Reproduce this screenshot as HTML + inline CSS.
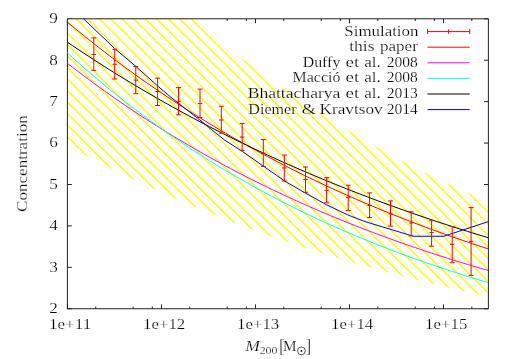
<!DOCTYPE html>
<html><head><meta charset="utf-8"><title>Concentration vs M200</title>
<style>html,body{margin:0;padding:0;background:#fff;}body{width:512px;height:359px;overflow:hidden;font-family:"Liberation Serif",serif;}svg{display:block;}</style></head>
<body>
<svg width="512" height="359" viewBox="0 0 512 359" font-family="'Liberation Serif', serif" font-size="15.2px" fill="#000">
<rect x="0" y="0" width="512" height="359" fill="#fff"/>
<defs><clipPath id="band"><polygon points="67.4,18.8 72.66,18.8 77.93,18.8 83.19,18.8 88.45,18.8 93.71,18.8 98.98,18.8 104.24,18.8 109.5,18.8 114.76,18.8 120.03,18.8 125.29,18.8 130.55,18.8 135.81,18.8 141.07,18.8 146.34,18.8 151.6,18.8 156.86,18.8 162.12,18.8 167.39,18.8 172.65,18.8 177.91,18.8 183.18,18.8 188.44,18.8 193.7,19.57 198.96,24.03 204.22,28.43 209.49,32.78 214.75,37.08 220.01,41.33 225.28,45.53 230.54,49.68 235.8,53.78 241.06,57.82 246.32,61.82 251.59,65.78 256.85,69.68 262.11,73.54 267.38,77.35 272.64,81.12 277.9,84.84 283.16,88.52 288.43,92.15 293.69,95.74 298.95,99.28 304.21,102.79 309.48,106.25 314.74,109.67 320,113.05 325.26,116.38 330.52,119.68 335.79,122.94 341.05,126.16 346.31,129.34 351.58,132.49 356.84,135.59 362.1,138.66 367.36,141.69 372.62,144.69 377.89,147.65 383.15,150.57 388.41,153.46 393.67,156.31 398.94,159.13 404.2,161.92 409.46,164.67 414.73,167.39 419.99,170.08 425.25,172.73 430.51,175.36 435.77,177.95 441.04,180.51 446.3,183.04 451.56,185.54 456.83,188.01 462.09,190.45 467.35,192.86 472.61,195.24 477.88,197.59 483.14,199.92 488.4,202.22 488.4,296.5 483.14,295.36 477.88,294.21 472.61,293.04 467.35,291.86 462.09,290.67 456.83,289.46 451.56,288.24 446.3,287 441.04,285.75 435.77,284.49 430.51,283.2 425.25,281.91 419.99,280.6 414.73,279.27 409.46,277.92 404.2,276.56 398.94,275.19 393.67,273.79 388.41,272.38 383.15,270.96 377.89,269.51 372.62,268.05 367.36,266.58 362.1,265.08 356.84,263.57 351.58,262.03 346.31,260.48 341.05,258.92 335.79,257.33 330.52,255.72 325.26,254.1 320,252.45 314.74,250.79 309.48,249.1 304.21,247.4 298.95,245.67 293.69,243.93 288.43,242.16 283.16,240.37 277.9,238.56 272.64,236.73 267.38,234.88 262.11,233 256.85,231.1 251.59,229.18 246.32,227.24 241.06,225.27 235.8,223.28 230.54,221.27 225.28,219.23 220.01,217.17 214.75,215.08 209.49,212.97 204.22,210.83 198.96,208.67 193.7,206.48 188.44,204.27 183.18,202.03 177.91,199.76 172.65,197.46 167.39,195.14 162.12,192.79 156.86,190.41 151.6,188 146.34,185.57 141.07,183.1 135.81,180.61 130.55,178.08 125.29,175.53 120.03,172.94 114.76,170.33 109.5,167.68 104.24,165 98.98,162.29 93.71,159.55 88.45,156.77 83.19,153.96 77.93,151.12 72.66,148.24 67.4,145.33"/></clipPath><clipPath id="frame"><rect x="67.4" y="18.8" width="421" height="289.95"/></clipPath></defs>
<path d="M67.4 308.75v-4.4M67.4 18.8v4.4M95.71 308.75v-2.2M95.71 18.8v2.2M133.13 308.75v-2.2M133.13 18.8v2.2M152.32 308.75v-2.2M152.32 18.8v2.2M161.43 308.75v-4.4M161.43 18.8v4.4M189.74 308.75v-2.2M189.74 18.8v2.2M227.16 308.75v-2.2M227.16 18.8v2.2M246.35 308.75v-2.2M246.35 18.8v2.2M255.47 308.75v-4.4M255.47 18.8v4.4M283.77 308.75v-2.2M283.77 18.8v2.2M321.19 308.75v-2.2M321.19 18.8v2.2M340.39 308.75v-2.2M340.39 18.8v2.2M349.5 308.75v-4.4M349.5 18.8v4.4M377.81 308.75v-2.2M377.81 18.8v2.2M415.23 308.75v-2.2M415.23 18.8v2.2M434.42 308.75v-2.2M434.42 18.8v2.2M443.53 308.75v-4.4M443.53 18.8v4.4M471.84 308.75v-2.2M471.84 18.8v2.2M67.4 308.75h4.4M488.4 308.75h-4.4M67.4 267.33h4.4M488.4 267.33h-4.4M67.4 225.91h4.4M488.4 225.91h-4.4M67.4 184.49h4.4M488.4 184.49h-4.4M67.4 143.06h4.4M488.4 143.06h-4.4M67.4 101.64h4.4M488.4 101.64h-4.4M67.4 60.22h4.4M488.4 60.22h-4.4M67.4 18.8h4.4M488.4 18.8h-4.4" stroke="#222" stroke-width="1" fill="none"/>
<polygon points="67.4,18.8 72.66,18.8 77.93,18.8 83.19,18.8 88.45,18.8 93.71,18.8 98.98,18.8 104.24,18.8 109.5,18.8 114.76,18.8 120.03,18.8 125.29,18.8 130.55,18.8 135.81,18.8 141.07,18.8 146.34,18.8 151.6,18.8 156.86,18.8 162.12,18.8 167.39,18.8 172.65,18.8 177.91,18.8 183.18,18.8 188.44,18.8 193.7,19.57 198.96,24.03 204.22,28.43 209.49,32.78 214.75,37.08 220.01,41.33 225.28,45.53 230.54,49.68 235.8,53.78 241.06,57.82 246.32,61.82 251.59,65.78 256.85,69.68 262.11,73.54 267.38,77.35 272.64,81.12 277.9,84.84 283.16,88.52 288.43,92.15 293.69,95.74 298.95,99.28 304.21,102.79 309.48,106.25 314.74,109.67 320,113.05 325.26,116.38 330.52,119.68 335.79,122.94 341.05,126.16 346.31,129.34 351.58,132.49 356.84,135.59 362.1,138.66 367.36,141.69 372.62,144.69 377.89,147.65 383.15,150.57 388.41,153.46 393.67,156.31 398.94,159.13 404.2,161.92 409.46,164.67 414.73,167.39 419.99,170.08 425.25,172.73 430.51,175.36 435.77,177.95 441.04,180.51 446.3,183.04 451.56,185.54 456.83,188.01 462.09,190.45 467.35,192.86 472.61,195.24 477.88,197.59 483.14,199.92 488.4,202.22 488.4,296.5 483.14,295.36 477.88,294.21 472.61,293.04 467.35,291.86 462.09,290.67 456.83,289.46 451.56,288.24 446.3,287 441.04,285.75 435.77,284.49 430.51,283.2 425.25,281.91 419.99,280.6 414.73,279.27 409.46,277.92 404.2,276.56 398.94,275.19 393.67,273.79 388.41,272.38 383.15,270.96 377.89,269.51 372.62,268.05 367.36,266.58 362.1,265.08 356.84,263.57 351.58,262.03 346.31,260.48 341.05,258.92 335.79,257.33 330.52,255.72 325.26,254.1 320,252.45 314.74,250.79 309.48,249.1 304.21,247.4 298.95,245.67 293.69,243.93 288.43,242.16 283.16,240.37 277.9,238.56 272.64,236.73 267.38,234.88 262.11,233 256.85,231.1 251.59,229.18 246.32,227.24 241.06,225.27 235.8,223.28 230.54,221.27 225.28,219.23 220.01,217.17 214.75,215.08 209.49,212.97 204.22,210.83 198.96,208.67 193.7,206.48 188.44,204.27 183.18,202.03 177.91,199.76 172.65,197.46 167.39,195.14 162.12,192.79 156.86,190.41 151.6,188 146.34,185.57 141.07,183.1 135.81,180.61 130.55,178.08 125.29,175.53 120.03,172.94 114.76,170.33 109.5,167.68 104.24,165 98.98,162.29 93.71,159.55 88.45,156.77 83.19,153.96 77.93,151.12 72.66,148.24 67.4,145.33" fill="#fff"/><g clip-path="url(#band)"><path d="M-460.2 0L-101.2 359M-448.7 0L-89.7 359M-437.2 0L-78.2 359M-425.7 0L-66.7 359M-414.2 0L-55.2 359M-402.7 0L-43.7 359M-391.2 0L-32.2 359M-379.7 0L-20.7 359M-368.2 0L-9.2 359M-356.7 0L2.3 359M-345.2 0L13.8 359M-333.7 0L25.3 359M-322.2 0L36.8 359M-310.7 0L48.3 359M-299.2 0L59.8 359M-287.7 0L71.3 359M-276.2 0L82.8 359M-264.7 0L94.3 359M-253.2 0L105.8 359M-241.7 0L117.3 359M-230.2 0L128.8 359M-218.7 0L140.3 359M-207.2 0L151.8 359M-195.7 0L163.3 359M-184.2 0L174.8 359M-172.7 0L186.3 359M-161.2 0L197.8 359M-149.7 0L209.3 359M-138.2 0L220.8 359M-126.7 0L232.3 359M-115.2 0L243.8 359M-103.7 0L255.3 359M-92.2 0L266.8 359M-80.7 0L278.3 359M-69.2 0L289.8 359M-57.7 0L301.3 359M-46.2 0L312.8 359M-34.7 0L324.3 359M-23.2 0L335.8 359M-11.7 0L347.3 359M-0.2 0L358.8 359M11.3 0L370.3 359M22.8 0L381.8 359M34.3 0L393.3 359M45.8 0L404.8 359M57.3 0L416.3 359M68.8 0L427.8 359M80.3 0L439.3 359M91.8 0L450.8 359M103.3 0L462.3 359M114.8 0L473.8 359M126.3 0L485.3 359M137.8 0L496.8 359M149.3 0L508.3 359M160.8 0L519.8 359M172.3 0L531.3 359M183.8 0L542.8 359M195.3 0L554.3 359M206.8 0L565.8 359M218.3 0L577.3 359M229.8 0L588.8 359M241.3 0L600.3 359M252.8 0L611.8 359M264.3 0L623.3 359M275.8 0L634.8 359M287.3 0L646.3 359M298.8 0L657.8 359M310.3 0L669.3 359M321.8 0L680.8 359M333.3 0L692.3 359M344.8 0L703.8 359M356.3 0L715.3 359M367.8 0L726.8 359M379.3 0L738.3 359M390.8 0L749.8 359M402.3 0L761.3 359M413.8 0L772.8 359M425.3 0L784.3 359M436.8 0L795.8 359M448.3 0L807.3 359M459.8 0L818.8 359M471.3 0L830.3 359M482.8 0L841.8 359M494.3 0L853.3 359M505.8 0L864.8 359M517.3 0L876.3 359M528.8 0L887.8 359M540.3 0L899.3 359M551.8 0L910.8 359M563.3 0L922.3 359M574.8 0L933.8 359M586.3 0L945.3 359M597.8 0L956.8 359M609.3 0L968.3 359M620.8 0L979.8 359M632.3 0L991.3 359M643.8 0L1002.8 359M655.3 0L1014.3 359M666.8 0L1025.8 359M678.3 0L1037.3 359" stroke="#ffff00" stroke-width="1.5" fill="none"/></g>
<path d="M67.4 18.8H488.4V308.75H67.4Z" stroke="#222" stroke-width="1" fill="none"/>
<g clip-path="url(#frame)" fill="none" stroke-width="1.0">
<path d="M67.4 22.2 L72.66 26.56 L77.93 30.88 L83.19 35.14 L88.45 39.36 L93.71 43.52 L98.98 47.64 L104.24 51.71 L109.5 55.72 L114.76 59.7 L120.03 63.62 L125.29 67.5 L130.55 71.33 L135.81 75.12 L141.07 78.86 L146.34 82.56 L151.6 86.21 L156.86 89.82 L162.12 93.39 L167.39 96.91 L172.65 100.4 L177.91 103.84 L183.18 107.24 L188.44 110.61 L193.7 113.93 L198.96 117.21 L204.22 120.46 L209.49 123.66 L214.75 126.83 L220.01 129.96 L225.28 133.05 L230.54 136.11 L235.8 139.13 L241.06 142.12 L246.32 145.06 L251.59 147.98 L256.85 150.86 L262.11 153.71 L267.38 156.52 L272.64 159.3 L277.9 162.04 L283.16 164.76 L288.43 167.44 L293.69 170.09 L298.95 172.71 L304.21 175.3 L309.48 177.86 L314.74 180.38 L320 182.88 L325.26 185.35 L330.52 187.79 L335.79 190.2 L341.05 192.58 L346.31 194.93 L351.58 197.26 L356.84 199.55 L362.1 201.82 L367.36 204.07 L372.62 206.28 L377.89 208.48 L383.15 210.64 L388.41 212.78 L393.67 214.89 L398.94 216.98 L404.2 219.05 L409.46 221.09 L414.73 223.1 L419.99 225.1 L425.25 227.06 L430.51 229.01 L435.77 230.93 L441.04 232.83 L446.3 234.71 L451.56 236.56 L456.83 238.4 L462.09 240.21 L467.35 242 L472.61 243.77 L477.88 245.51 L483.14 247.24 L488.4 248.95" stroke="#ff0000"/>
<path d="M67.4 63.33 L72.66 67.4 L77.93 71.42 L83.19 75.39 L88.45 79.31 L93.71 83.18 L98.98 87 L104.24 90.78 L109.5 94.5 L114.76 98.19 L120.03 101.82 L125.29 105.42 L130.55 108.96 L135.81 112.47 L141.07 115.93 L146.34 119.34 L151.6 122.72 L156.86 126.05 L162.12 129.34 L167.39 132.6 L172.65 135.81 L177.91 138.98 L183.18 142.11 L188.44 145.2 L193.7 148.26 L198.96 151.27 L204.22 154.25 L209.49 157.19 L214.75 160.1 L220.01 162.97 L225.28 165.8 L230.54 168.6 L235.8 171.37 L241.06 174.1 L246.32 176.79 L251.59 179.45 L256.85 182.08 L262.11 184.68 L267.38 187.25 L272.64 189.78 L277.9 192.28 L283.16 194.75 L288.43 197.19 L293.69 199.6 L298.95 201.98 L304.21 204.33 L309.48 206.65 L314.74 208.95 L320 211.21 L325.26 213.45 L330.52 215.66 L335.79 217.84 L341.05 219.99 L346.31 222.12 L351.58 224.22 L356.84 226.29 L362.1 228.34 L367.36 230.37 L372.62 232.36 L377.89 234.34 L383.15 236.29 L388.41 238.21 L393.67 240.11 L398.94 241.99 L404.2 243.85 L409.46 245.68 L414.73 247.49 L419.99 249.27 L425.25 251.04 L430.51 252.78 L435.77 254.5 L441.04 256.2 L446.3 257.88 L451.56 259.54 L456.83 261.17 L462.09 262.79 L467.35 264.39 L472.61 265.96 L477.88 267.52 L483.14 269.06 L488.4 270.58" stroke="#ff00ff"/>
<path d="M67.4 53.01 L72.66 57.78 L77.93 62.48 L83.19 67.11 L88.45 71.68 L93.71 76.18 L98.98 80.62 L104.24 85 L109.5 89.31 L114.76 93.57 L120.03 97.76 L125.29 101.9 L130.55 105.97 L135.81 109.99 L141.07 113.96 L146.34 117.86 L151.6 121.72 L156.86 125.52 L162.12 129.26 L167.39 132.95 L172.65 136.59 L177.91 140.18 L183.18 143.72 L188.44 147.21 L193.7 150.65 L198.96 154.04 L204.22 157.38 L209.49 160.68 L214.75 163.93 L220.01 167.14 L225.28 170.29 L230.54 173.41 L235.8 176.48 L241.06 179.51 L246.32 182.49 L251.59 185.44 L256.85 188.34 L262.11 191.2 L267.38 194.02 L272.64 196.8 L277.9 199.54 L283.16 202.24 L288.43 204.91 L293.69 207.54 L298.95 210.13 L304.21 212.68 L309.48 215.2 L314.74 217.68 L320 220.13 L325.26 222.54 L330.52 224.92 L335.79 227.27 L341.05 229.58 L346.31 231.86 L351.58 234.11 L356.84 236.33 L362.1 238.51 L367.36 240.67 L372.62 242.79 L377.89 244.89 L383.15 246.95 L388.41 248.99 L393.67 250.99 L398.94 252.97 L404.2 254.92 L409.46 256.85 L414.73 258.74 L419.99 260.61 L425.25 262.46 L430.51 264.27 L435.77 266.07 L441.04 267.83 L446.3 269.57 L451.56 271.29 L456.83 272.99 L462.09 274.65 L467.35 276.3 L472.61 277.92 L477.88 279.52 L483.14 281.1 L488.4 282.66" stroke="#00ffff"/>
<path d="M67.4 42.16 L72.66 45.73 L77.93 49.26 L83.19 52.75 L88.45 56.21 L93.71 59.63 L98.98 63.02 L104.24 66.37 L109.5 69.69 L114.76 72.98 L120.03 76.23 L125.29 79.45 L130.55 82.63 L135.81 85.78 L141.07 88.9 L146.34 91.99 L151.6 95.05 L156.86 98.08 L162.12 101.07 L167.39 104.04 L172.65 106.97 L177.91 109.88 L183.18 112.75 L188.44 115.6 L193.7 118.41 L198.96 121.2 L204.22 123.96 L209.49 126.69 L214.75 129.4 L220.01 132.07 L225.28 134.72 L230.54 137.34 L235.8 139.94 L241.06 142.5 L246.32 145.05 L251.59 147.56 L256.85 150.05 L262.11 152.52 L267.38 154.96 L272.64 157.37 L277.9 159.76 L283.16 162.13 L288.43 164.47 L293.69 166.79 L298.95 169.08 L304.21 171.35 L309.48 173.6 L314.74 175.82 L320 178.03 L325.26 180.21 L330.52 182.36 L335.79 184.5 L341.05 186.61 L346.31 188.7 L351.58 190.77 L356.84 192.82 L362.1 194.85 L367.36 196.86 L372.62 198.85 L377.89 200.81 L383.15 202.76 L388.41 204.69 L393.67 206.59 L398.94 208.48 L404.2 210.35 L409.46 212.2 L414.73 214.03 L419.99 215.84 L425.25 217.64 L430.51 219.41 L435.77 221.17 L441.04 222.91 L446.3 224.63 L451.56 226.33 L456.83 228.02 L462.09 229.69 L467.35 231.34 L472.61 232.98 L477.88 234.6 L483.14 236.2 L488.4 237.78" stroke="#000000"/>
<path d="M60 -3.7 L83.6 18.9 L114.8 48.6 L135.8 66.4 L163.4 91 L178.2 103.1 L199.3 119.5 L215.7 133 L225 140.3 L242.6 151.6 L263.1 166 L276.6 175.4 L285 181.25 L305.3 193 L326.4 204.7 L347.5 214.8 L365 221.6 L392 229.8 L413.5 236.25 L443.8 236.25 L488.4 221.6" stroke="#0000ff"/>
</g>
<path d="M93.8 37.9V70.4M91.35 37.9H96.25M91.35 70.4H96.25M91.6 54.5H96M114.7 49.3V79M112.25 49.3H117.15M112.25 79H117.15M112.5 64.3H116.9M135.75 66.5V93.7M133.3 66.5H138.2M133.3 93.7H138.2M133.55 80.1H137.95M157.6 78.2V105.5M155.15 78.2H160.05M155.15 105.5H160.05M155.4 91.5H159.8M178.5 87.6V114.9M176.05 87.6H180.95M176.05 114.9H180.95M176.3 101.25H180.7M200 89.1V117.5M197.55 89.1H202.45M197.55 117.5H202.45M197.8 103.6H202.2M221.3 106.3V133.2M218.85 106.3H223.75M218.85 133.2H223.75M219.1 120H223.5M242.2 123.4V150.4M239.75 123.4H244.65M239.75 150.4H244.65M240 137.1H244.4M263.3 139.6V166.4M260.85 139.6H265.75M260.85 166.4H265.75M261.1 153.1H265.5M284.3 155V181M281.85 155H286.75M281.85 181H286.75M282.1 167.9H286.5M305.5 167V192.3M303.05 167H307.95M303.05 192.3H307.95M303.3 179.5H307.7M326.6 177.7V202.9M324.15 177.7H329.05M324.15 202.9H329.05M324.4 190.4H328.8M348.2 185.2V210.6M345.75 185.2H350.65M345.75 210.6H350.65M346 197.3H350.4M369.6 192.9V217.5M367.15 192.9H372.05M367.15 217.5H372.05M367.4 205.5H371.8M390.5 200.9V226.1M388.05 200.9H392.95M388.05 226.1H392.95M388.3 213.9H392.7M411.2 211.8V235.9M408.75 211.8H413.65M408.75 235.9H413.65M409 223H413.4M431.6 220.7V246.25M429.15 220.7H434.05M429.15 246.25H434.05M429.4 232.6H433.8M452.2 226.5V262.7M449.75 226.5H454.65M449.75 262.7H454.65M450 244.3H454.4M471.1 207.6V275.4M468.65 207.6H473.55M468.65 275.4H473.55M468.9 241.4H473.3" stroke="#ff0000" stroke-width="1" fill="none"/>
<g style="filter:grayscale(1)" stroke="#fff" stroke-width="0.22" paint-order="fill stroke">
<text x="57.9" y="313.05" text-anchor="end" textLength="8.6" lengthAdjust="spacingAndGlyphs">2</text>
<text x="57.9" y="271.63" text-anchor="end" textLength="8.6" lengthAdjust="spacingAndGlyphs">3</text>
<text x="57.9" y="230.21" text-anchor="end" textLength="8.6" lengthAdjust="spacingAndGlyphs">4</text>
<text x="57.9" y="188.79" text-anchor="end" textLength="8.6" lengthAdjust="spacingAndGlyphs">5</text>
<text x="57.9" y="147.36" text-anchor="end" textLength="8.6" lengthAdjust="spacingAndGlyphs">6</text>
<text x="57.9" y="105.94" text-anchor="end" textLength="8.6" lengthAdjust="spacingAndGlyphs">7</text>
<text x="57.9" y="64.52" text-anchor="end" textLength="8.6" lengthAdjust="spacingAndGlyphs">8</text>
<text x="57.9" y="23.1" text-anchor="end" textLength="8.6" lengthAdjust="spacingAndGlyphs">9</text>
<text x="70.1" y="328.6" text-anchor="middle" textLength="42.2" lengthAdjust="spacingAndGlyphs">1e+11</text>
<text x="164.13" y="328.6" text-anchor="middle" textLength="42.2" lengthAdjust="spacingAndGlyphs">1e+12</text>
<text x="258.17" y="328.6" text-anchor="middle" textLength="42.2" lengthAdjust="spacingAndGlyphs">1e+13</text>
<text x="352.2" y="328.6" text-anchor="middle" textLength="42.2" lengthAdjust="spacingAndGlyphs">1e+14</text>
<text x="446.23" y="328.6" text-anchor="middle" textLength="42.2" lengthAdjust="spacingAndGlyphs">1e+15</text>
<text transform="translate(27,163.6) rotate(-90)" text-anchor="middle" textLength="96.6" lengthAdjust="spacingAndGlyphs">Concentration</text>
<text x="245.2" y="351.4" font-style="italic" textLength="14.6" lengthAdjust="spacingAndGlyphs">M</text>
<text x="259.7" y="354.4" font-size="10.6px" textLength="17.8" lengthAdjust="spacingAndGlyphs">200</text>
<text transform="translate(279.2,351.4) scale(1,1.22)" x="0" y="0.4">[</text>
<text x="283.0" y="351.4" textLength="13.6" lengthAdjust="spacingAndGlyphs">M</text>
<circle cx="301.4" cy="350.9" r="3.9" fill="none" stroke="#000" stroke-width="0.65"/><circle cx="301.4" cy="350.9" r="0.85" fill="#000" stroke="none"/>
<text transform="translate(306.0,351.4) scale(1,1.22)" x="0" y="0.4">]</text>
<text x="344.34" y="35.5" textLength="74.14" lengthAdjust="spacingAndGlyphs">Simulation</text>
<text x="349.18" y="51.1" textLength="25.3" lengthAdjust="spacingAndGlyphs">this</text>
<text x="379.91" y="51.1" textLength="37.96" lengthAdjust="spacingAndGlyphs">paper</text>
<text x="302.7" y="66.7" textLength="37.64" lengthAdjust="spacingAndGlyphs">Duffy</text>
<text x="345.52" y="66.7" textLength="13.72" lengthAdjust="spacingAndGlyphs">et</text>
<text x="364.2" y="66.7" textLength="16.54" lengthAdjust="spacingAndGlyphs">al.</text>
<text x="386.71" y="66.7" textLength="31.06" lengthAdjust="spacingAndGlyphs">2008</text>
<text x="292.57" y="82.3" textLength="47.82" lengthAdjust="spacingAndGlyphs">Macció</text>
<text x="345.52" y="82.3" textLength="13.72" lengthAdjust="spacingAndGlyphs">et</text>
<text x="364.2" y="82.3" textLength="16.54" lengthAdjust="spacingAndGlyphs">al.</text>
<text x="386.71" y="82.3" textLength="31.06" lengthAdjust="spacingAndGlyphs">2008</text>
<text x="247.67" y="97.9" textLength="92.77" lengthAdjust="spacingAndGlyphs">Bhattacharya</text>
<text x="345.52" y="97.9" textLength="13.72" lengthAdjust="spacingAndGlyphs">et</text>
<text x="364.2" y="97.9" textLength="16.54" lengthAdjust="spacingAndGlyphs">al.</text>
<text x="386.67" y="97.9" textLength="31.15" lengthAdjust="spacingAndGlyphs">2013</text>
<text x="248.33" y="113.5" textLength="48.17" lengthAdjust="spacingAndGlyphs">Diemer</text>
<text x="301.41" y="113.5" textLength="14.66" lengthAdjust="spacingAndGlyphs">&amp;</text>
<text x="319.53" y="113.5" textLength="63.14" lengthAdjust="spacingAndGlyphs">Kravtsov</text>
<text x="386.75" y="113.5" textLength="31.12" lengthAdjust="spacingAndGlyphs">2014</text>
</g>
<path d="M427.5 31.6H469.7M427.5 29.15v4.9M469.7 29.15v4.9M448.6 29.4v4.4" stroke="#ff0000" stroke-width="1" fill="none"/>
<path d="M427.5 47.2H469.7" stroke="#ff0000" stroke-width="1" fill="none"/>
<path d="M427.5 62.8H469.7" stroke="#ff00ff" stroke-width="1" fill="none"/>
<path d="M427.5 78.4H469.7" stroke="#00ffff" stroke-width="1" fill="none"/>
<path d="M427.5 94H469.7" stroke="#000000" stroke-width="1" fill="none"/>
<path d="M427.5 109.6H469.7" stroke="#0000ff" stroke-width="1" fill="none"/>
</svg>
</body></html>
